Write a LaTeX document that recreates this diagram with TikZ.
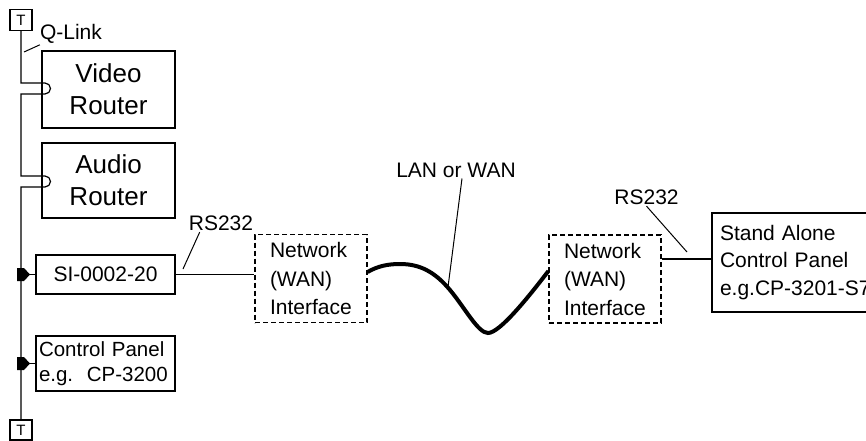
\documentclass[tikz,border=0pt]{standalone}
\usepackage{fontspec}
\setmainfont{Liberation Sans}
\usetikzlibrary{positioning}

\begin{document}
\begin{tikzpicture}[x=1pt, y=-1pt,
  device/.style={rectangle, draw=black, line width=1.2pt, inner sep=0pt, align=center, font=\fontsize{21}{27}\selectfont},
  router/.style={device, minimum width=133pt, font=\fontsize{26}{32}\selectfont},
  iface/.style={rectangle, draw=black, line width=1.2pt, dash pattern=on 5pt off 3pt, minimum width=112pt, minimum height=88pt, text width=82pt, inner xsep=15pt, inner ysep=0pt, align=left, font=\fontsize{21}{28.5}\selectfont},
  term/.style={rectangle, draw=black, line width=1.2pt, minimum width=22pt, minimum height=21pt, inner sep=0pt, font=\fontsize{15}{15}\selectfont},
  tag/.style={inner sep=1pt, font=\fontsize{21}{21}\selectfont},
  line/.style={draw, line width=1.2pt},
  leader/.style={draw, line width=1pt}]

  \useasboundingbox (0,0) rectangle (866,441);
  \clip (0,0) rectangle (866,441);

  % terminators and the Q-Link bus
  \node [term] (ttop) at (21,20) {T};
  \node [term, minimum height=20pt] (tbot) at (21,430) {T};

  \node [router, minimum height=77pt] (video) at (108.5,89.5) {Video\\Router};
  \node [router, minimum height=75pt] (audio) at (108.5,180.5) {Audio\\Router};
  \node [device, minimum width=139pt, minimum height=39pt] (si) at (105.5,274.5) {SI-0002-20};
  \node [device, minimum width=139pt, minimum height=55pt, text width=133pt, inner xsep=3pt, align=left, font=\fontsize{20.5}{25}\selectfont] (panel) at (105.5,363.5) {\mbox{Control Panel}\\\mbox{e.g.\ \ CP-3200}};

  % remote side
  \node [iface] (net1) at (311,278.5) {Network\\(WAN)\\Interface};
  \node [iface] (net2) at (605,279) {Network\\(WAN)\\Interface};
  \node [device, minimum width=206pt, minimum height=99pt, text width=190pt, inner xsep=8pt, align=left, font=\fontsize{21}{27.5}\selectfont] (alone) at (815,262.5) {Stand Alone\\Control Panel\\e.g.CP-3201-S7};

  % labels
  \node [tag] (qlink) at (71,34) {Q-Link};
  \node [tag] (rsl) at (221,223.5) {RS232};
  \node [tag] (rsr) at (646.5,197.5) {RS232};
  \node [tag] (lan) at (456,170) {LAN or WAN};

  \coordinate (qtip) at (24,52);
  \coordinate (rsltip) at (183,269);
  \coordinate (rsrtip) at (687,252);
  \coordinate (lantip) at (448,287);

  \coordinate (vin) at (45,83);
  \coordinate (vout) at (45,94);
  \coordinate (ain) at (45,176);
  \coordinate (aout) at (45,187);

  \draw [line] (ttop) -- (ttop |- vin) -- (vin) arc[start angle=90, end angle=-90, radius=5.5pt] -- (ttop |- vout)
    -- (ttop |- ain) -- (ain) arc[start angle=90, end angle=-90, radius=5.5pt] -- (ttop |- aout) -- (tbot);

  \draw [line] (si.west) -- (si.west -| ttop);
  \fill (si.west -| ttop) ++(-4,-6.5) -- ++(7,0) -- ++(6,6.5) -- ++(-6,6.5) -- ++(-7,0) -- cycle;
  \draw [line] (panel.west) -- (panel.west -| ttop);
  \fill (panel.west -| ttop) ++(-4,-6.5) -- ++(7,0) -- ++(6,6.5) -- ++(-6,6.5) -- ++(-7,0) -- cycle;

  \draw [line] (si.east) -- (si.east -| net1.west);
  \draw [line, line width=4pt] ([yshift=6.5pt]net1.east) .. controls (378,266) and (388,264) .. (400,264)
    .. controls (420,264) and (435,272) .. (450,290)
    .. controls (465,308) and (478,333) .. (488,333)
    .. controls (500,333) and (530,295) .. ([yshift=8pt]net2.west);
  \draw [line] ([yshift=20pt]net2.east) -- ([yshift=20pt]net2.east -| alone.west);

  \draw [leader] ([xshift=1pt]qlink.south west) -- (qtip);
  \draw [leader] ([xshift=12pt]rsl.south west) -- (rsltip);
  \draw [leader] (rsr.south) -- (rsrtip);
  \draw [leader] ([xshift=6pt]lan.south) -- (lantip);
\end{tikzpicture}
\end{document}
